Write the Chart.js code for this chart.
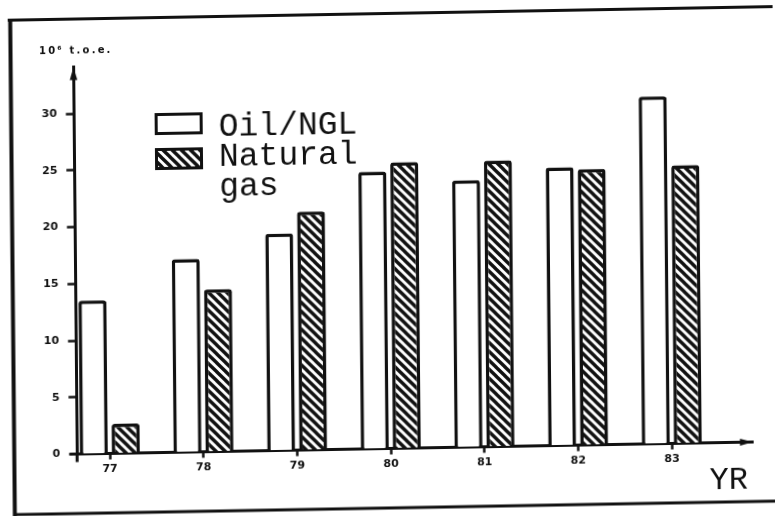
<!DOCTYPE html>
<html>
<head>
<meta charset="utf-8">
<script src="https://cdn.jsdelivr.net/npm/chart.js@4.4.1/dist/chart.umd.min.js"></script>
<style>
  html, body { margin: 0; padding: 0; background: #fff; overflow: hidden; }
  #sheet {
    position: absolute; left: 0; top: 0; width: 775px; height: 516px;
    transform: matrix(1, -0.0178, 0.0094, 1, 0, 0);
    transform-origin: 387.5px 258px;
  }
  canvas { display: block; }
</style>
</head>
<body>
<div id="sheet"><canvas id="c" width="775" height="516"></canvas></div>
<script>
// Production by year, million tonnes of oil equivalent
const years = [77, 78, 79, 80, 81, 82, 83];
const oilNgl = [13.5, 17.0, 19.1, 24.4, 23.5, 24.5, 30.6];
const naturalGas = [2.6, 14.3, 21.0, 25.2, 25.2, 24.3, 24.5];
const yTicks = [0, 5, 10, 15, 20, 25, 30];
const seriesNames = ['Oil/NGL', 'Natural gas'];
const unitLabel = '10\u2076 t.o.e.';
const xAxisLabel = 'YR';

const INK = '#111';

// diagonal "\" hatch used for the gas bars
function makeHatch() {
  const s = 9;
  const t = document.createElement('canvas');
  t.width = s; t.height = s;
  const g = t.getContext('2d');
  g.fillStyle = '#fff';
  g.fillRect(0, 0, s, s);
  g.strokeStyle = INK;
  g.lineWidth = 3.4;
  g.beginPath();
  for (const o of [-s, 0, s]) {
    g.moveTo(o - 1, -1);
    g.lineTo(o + s + 1, s + 1);
  }
  g.stroke();
  return g.createPattern(t, 'repeat');
}
const hatch = makeHatch();

const toPoints = vals => vals.map((v, i) => ({ x: years[i], y: v }));

// page frame, axis arrows, captions and the legend
const decorations = {
  id: 'decorations',
  beforeDraw(chart) {
    const ctx = chart.ctx;
    ctx.save();
    ctx.fillStyle = '#fff';
    ctx.fillRect(0, 0, chart.width, chart.height);
    ctx.strokeStyle = INK;
    ctx.lineCap = 'butt';
    ctx.lineWidth = 3;
    ctx.beginPath();
    ctx.moveTo(10, 13.5); ctx.lineTo(775, 13.5);
    ctx.stroke();
    ctx.lineWidth = 4;
    ctx.beginPath();
    ctx.moveTo(12.5, 12); ctx.lineTo(12.5, 516);
    ctx.stroke();
    ctx.lineWidth = 3;
    ctx.beginPath();
    ctx.moveTo(12, 508); ctx.lineTo(775, 508);
    ctx.stroke();
    ctx.restore();
  },
  afterDraw(chart) {
    const ctx = chart.ctx;
    const a = chart.chartArea;
    ctx.save();
    ctx.fillStyle = INK;
    ctx.strokeStyle = INK;
    ctx.lineWidth = 3;

    // axis stubs past the origin
    ctx.beginPath();
    ctx.moveTo(a.left - 7, a.bottom); ctx.lineTo(a.left, a.bottom);
    ctx.moveTo(a.left, a.bottom); ctx.lineTo(a.left, a.bottom + 8);
    ctx.stroke();

    // arrowheads
    ctx.beginPath();
    ctx.moveTo(a.left, a.top);
    ctx.lineTo(a.left - 3.8, a.top + 13);
    ctx.lineTo(a.left + 3.8, a.top + 13);
    ctx.closePath();
    ctx.fill();
    ctx.beginPath();
    ctx.moveTo(a.right, a.bottom);
    ctx.lineTo(a.right - 13, a.bottom - 3.5);
    ctx.lineTo(a.right - 13, a.bottom + 3.5);
    ctx.closePath();
    ctx.fill();

    // unit caption
    ctx.font = 'bold 10px "DejaVu Sans"';
    ctx.textAlign = 'left';
    ctx.textBaseline = 'alphabetic';
    if ('letterSpacing' in ctx) ctx.letterSpacing = '2.2px';
    ctx.fillText(unitLabel, 41, 48);
    if ('letterSpacing' in ctx) ctx.letterSpacing = '0px';

    // x axis caption
    ctx.font = '32px "Liberation Mono"';
    ctx.textAlign = 'right';
    ctx.fillText(xAxisLabel, 746, 495);

    // legend
    const boxX = 156, boxW = 48, boxH = 22;
    const rows = [
      { y: 109, baselines: [133] },
      { y: 144, baselines: [163, 193] }
    ];
    ctx.textAlign = 'left';
    chart.data.datasets.forEach((ds, i) => {
      const r = rows[i];
      ctx.fillStyle = ds.backgroundColor;
      ctx.fillRect(boxX, r.y, boxW, boxH);
      ctx.lineWidth = 3;
      ctx.strokeStyle = INK;
      ctx.strokeRect(boxX + 1.5, r.y + 1.5, boxW - 3, boxH - 3);
      ctx.fillStyle = INK;
      ctx.font = '33px "Liberation Mono"';
      const words = ds.label.split(' ');
      words.forEach((w, k) => ctx.fillText(w, 220, r.baselines[k]));
    });
    ctx.restore();
  }
};

new Chart(document.getElementById('c'), {
  type: 'bar',
  data: {
    datasets: [
      {
        label: seriesNames[0],
        data: toPoints(oilNgl),
        backgroundColor: '#fff',
        borderColor: INK,
        borderWidth: 3.5,
        borderRadius: 3
      },
      {
        label: seriesNames[1],
        data: toPoints(naturalGas),
        backgroundColor: hatch,
        borderColor: INK,
        borderWidth: 3.5,
        borderRadius: 3
      }
    ]
  },
  options: {
    responsive: false,
    animation: false,
    devicePixelRatio: 1,
    categoryPercentage: 0.683,
    barPercentage: 0.875,
    layout: { padding: { left: 15.3, right: 23.7, top: 61.5, bottom: 37.5 } },
    plugins: {
      legend: { display: false },
      tooltip: { enabled: false },
      title: { display: false }
    },
    scales: {
      x: {
        type: 'linear',
        offset: false,
        min: 76.65,
        max: 83.866,
        afterBuildTicks: s => { s.ticks = years.map(v => ({ value: v })); },
        afterFit: s => { s.height = 30; },
        border: { display: true, color: INK, width: 3 },
        grid: {
          offset: false,
          drawOnChartArea: false, drawTicks: true,
          tickLength: 6, tickWidth: 2.5, tickColor: INK
        },
        ticks: {
          padding: 3,
          color: INK,
          font: { family: 'DejaVu Sans', weight: 'bold', size: 11 },
          maxRotation: 0,
          callback: v => String(v)
        }
      },
      y: {
        min: 0,
        max: 34.1,
        afterBuildTicks: s => { s.ticks = yTicks.map(v => ({ value: v })); },
        afterFit: s => { s.width = 60; },
        border: { display: true, color: INK, width: 3 },
        grid: {
          drawOnChartArea: false, drawTicks: true,
          tickLength: 8, tickWidth: 2.5, tickColor: INK
        },
        ticks: {
          padding: 9,
          color: INK,
          font: { family: 'DejaVu Sans', weight: 'bold', size: 11 },
          callback: v => String(v)
        }
      }
    }
  },
  plugins: [decorations]
});
</script>
</body>
</html>
